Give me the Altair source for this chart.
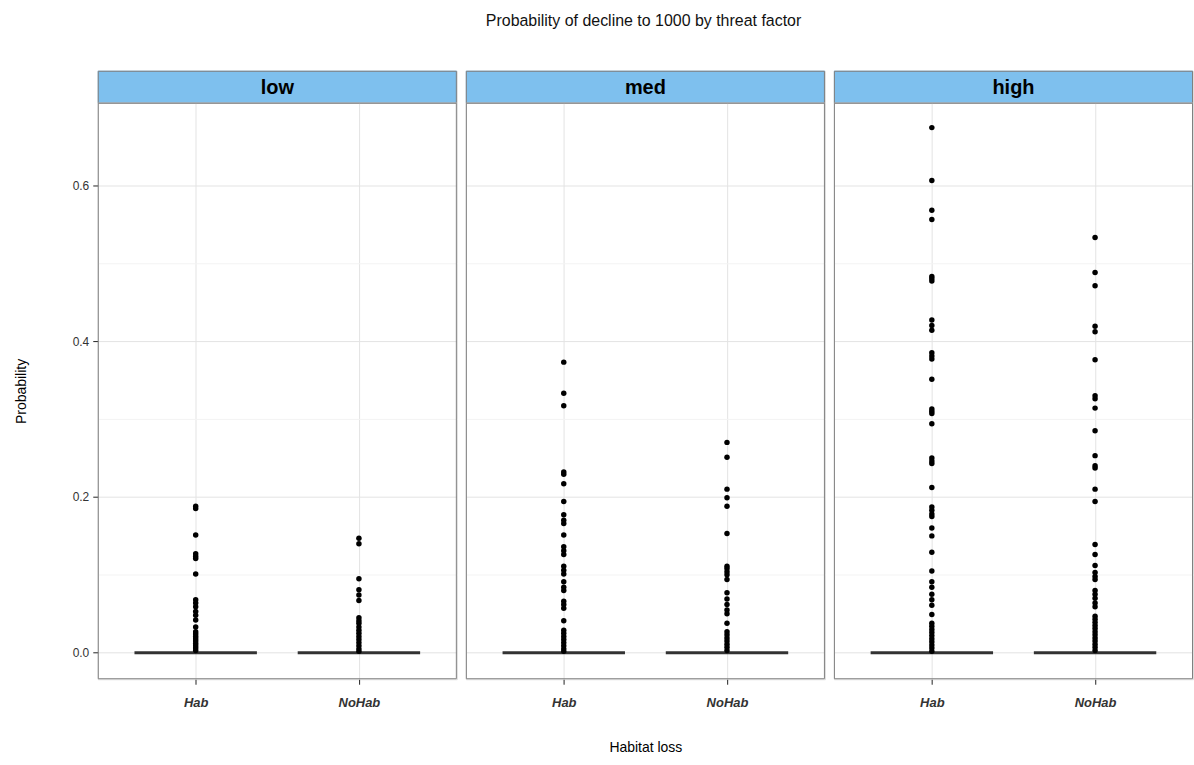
import altair as alt
import pandas as pd

threats = ["low", "med", "high"]
habitats = ["Hab", "NoHab"]

# box statistics (quartiles all collapse to zero)
box_threat = ["low", "low", "med", "med", "high", "high"]
box_habitat = ["Hab", "NoHab", "Hab", "NoHab", "Hab", "NoHab"]
box_median = [0.0, 0.0, 0.0, 0.0, 0.0, 0.0]

# outliers
low_hab = [0.188, 0.185, 0.151, 0.127, 0.124, 0.121, 0.101, 0.068, 0.064, 0.059,
           0.053, 0.048, 0.042, 0.033, 0.027, 0.024, 0.021, 0.018, 0.015, 0.012,
           0.009, 0.006, 0.003]
low_nohab = [0.147, 0.140, 0.095, 0.081, 0.074, 0.067, 0.045, 0.041, 0.038, 0.033,
             0.029, 0.025, 0.021, 0.017, 0.013, 0.009, 0.005, 0.002]
med_hab = [0.373, 0.333, 0.317, 0.232, 0.229, 0.217, 0.194, 0.177, 0.170, 0.166,
           0.151, 0.136, 0.131, 0.126, 0.111, 0.106, 0.101, 0.091, 0.084, 0.080,
           0.066, 0.062, 0.057, 0.041, 0.029, 0.025, 0.021, 0.017, 0.013, 0.009,
           0.005, 0.002]
med_nohab = [0.270, 0.251, 0.210, 0.199, 0.188, 0.153, 0.111, 0.108, 0.104, 0.100,
             0.094, 0.077, 0.069, 0.062, 0.055, 0.050, 0.038, 0.027, 0.023, 0.019,
             0.015, 0.011, 0.007, 0.003]
high_hab = [0.674, 0.606, 0.568, 0.556, 0.483, 0.480, 0.477, 0.427, 0.420, 0.414,
            0.385, 0.381, 0.377, 0.351, 0.313, 0.310, 0.307, 0.294, 0.250, 0.246,
            0.243, 0.212, 0.187, 0.183, 0.178, 0.175, 0.160, 0.150, 0.129, 0.105,
            0.091, 0.084, 0.075, 0.068, 0.061, 0.049, 0.038, 0.034, 0.030, 0.026,
            0.022, 0.018, 0.014, 0.010, 0.006, 0.002]
high_nohab = [0.533, 0.488, 0.471, 0.419, 0.412, 0.376, 0.330, 0.326, 0.314, 0.285,
              0.253, 0.240, 0.237, 0.210, 0.194, 0.139, 0.126, 0.112, 0.103, 0.098,
              0.094, 0.080, 0.075, 0.070, 0.064, 0.059, 0.047, 0.043, 0.039, 0.035,
              0.031, 0.027, 0.023, 0.019, 0.015, 0.011, 0.007, 0.003]

groups = {
    ("low", "Hab"): low_hab, ("low", "NoHab"): low_nohab,
    ("med", "Hab"): med_hab, ("med", "NoHab"): med_nohab,
    ("high", "Hab"): high_hab, ("high", "NoHab"): high_nohab,
}
rows = []
for (t, h), vals in groups.items():
    for v in vals:
        rows.append({"threat": t, "habitat": h, "value": v})
out_df = pd.DataFrame(rows)
box_df = pd.DataFrame({"threat": box_threat, "habitat": box_habitat, "median": box_median})
strip_df = pd.DataFrame({"threat": threats})

FONT = "Liberation Sans"
W, H, SH = 360, 578, 32
STEP = W / 2.2
BORDER = "#7F7F7F"

xscale = alt.Scale(type="point", domain=habitats, padding=0.6)
yscale = alt.Scale(domain=[-0.034, 0.706], nice=False, zero=False)


def frame(t, w, h):
    return alt.Chart(strip_df).transform_filter(alt.datum.threat == t).mark_rect(
        fillOpacity=0, stroke=BORDER, strokeWidth=1
    ).encode(x=alt.value(0.5), x2=alt.value(w - 0.5), y=alt.value(0.5), y2=alt.value(h - 0.5))


def panel(t, idx):
    xaxis_kw = dict(
        labelFontStyle="italic", labelFontWeight="bold", labelFontSize=13,
        labelColor="#333333", labelFont=FONT, ticks=True, tickColor="#222222",
        tickSize=5, tickWidth=1, labelPadding=12, domain=False, grid=True,
        gridColor="#E3E3E3", titleFontSize=14, titleFontWeight="normal",
        titleFont=FONT, titleColor="black", titlePadding=31, labelAngle=0,
    )
    xaxis = alt.Axis(title="Habitat loss" if idx == 1 else None, **xaxis_kw)
    if idx == 0:
        yaxis = alt.Axis(values=[0.0, 0.2, 0.4, 0.6], format=".1f", labelFontSize=12,
                         labelColor="#333333", labelFont=FONT, ticks=True,
                         tickColor="#222222", tickSize=5, tickWidth=1, labelPadding=4,
                         domain=False, grid=True, gridColor="#E3E3E3",
                         title="Probability", titleFontSize=14, titleFontWeight="normal",
                         titleFont=FONT, titleColor="black", titlePadding=44)
    else:
        yaxis = alt.Axis(values=[0.0, 0.2, 0.4, 0.6], labels=False, ticks=False,
                         domain=False, grid=True, gridColor="#E3E3E3", title=None)
    yminor = alt.Axis(values=[0.1, 0.3, 0.5], labels=False, ticks=False, domain=False,
                      grid=True, gridColor="#F3F3F3", title=None, orient="right")

    box = alt.Chart(box_df).transform_filter(alt.datum.threat == t).mark_tick(
        color="#333333", thickness=3, size=STEP * 0.75, opacity=1
    ).encode(
        x=alt.X("habitat:N", scale=xscale, axis=xaxis),
        y=alt.Y("median:Q", scale=yscale, axis=yaxis),
    )
    pts = alt.Chart(out_df).transform_filter(alt.datum.threat == t).mark_circle(
        color="black", size=30, opacity=1
    ).encode(
        x=alt.X("habitat:N", scale=xscale, axis=xaxis),
        y=alt.Y("value:Q", scale=yscale, axis=yminor),
    )
    body = alt.layer(box, pts, frame(t, W, H)).resolve_axis(y="independent").properties(
        width=W, height=H)

    sbase = alt.Chart(strip_df).transform_filter(alt.datum.threat == t)
    rect = sbase.mark_rect(color="#7EC0EE").encode(
        x=alt.value(0), x2=alt.value(W), y=alt.value(0), y2=alt.value(SH)
    )
    txt = sbase.mark_text(fontSize=20, fontWeight="bold", font=FONT, color="black",
                          baseline="middle").encode(
        x=alt.value(W / 2), y=alt.value(SH / 2 + 1), text="threat:N"
    )
    strip = alt.layer(rect, txt, frame(t, W, SH + 1)).properties(width=W, height=SH)
    return alt.vconcat(strip, body, spacing=0, bounds="flush")


chart = alt.hconcat(*[panel(t, i) for i, t in enumerate(threats)], spacing=7).properties(
    title=alt.TitleParams("Probability of decline to 1000 by threat factor", fontSize=16,
                          fontWeight="normal", font=FONT, color="#111111",
                          anchor="middle", offset=41, dx=40),
    padding={"left": 13, "top": 12, "right": 0, "bottom": 0},
).configure_view(strokeWidth=0).configure(font=FONT, background="white")

chart.save("out.html", embed_options={"renderer": "svg", "actions": False})
